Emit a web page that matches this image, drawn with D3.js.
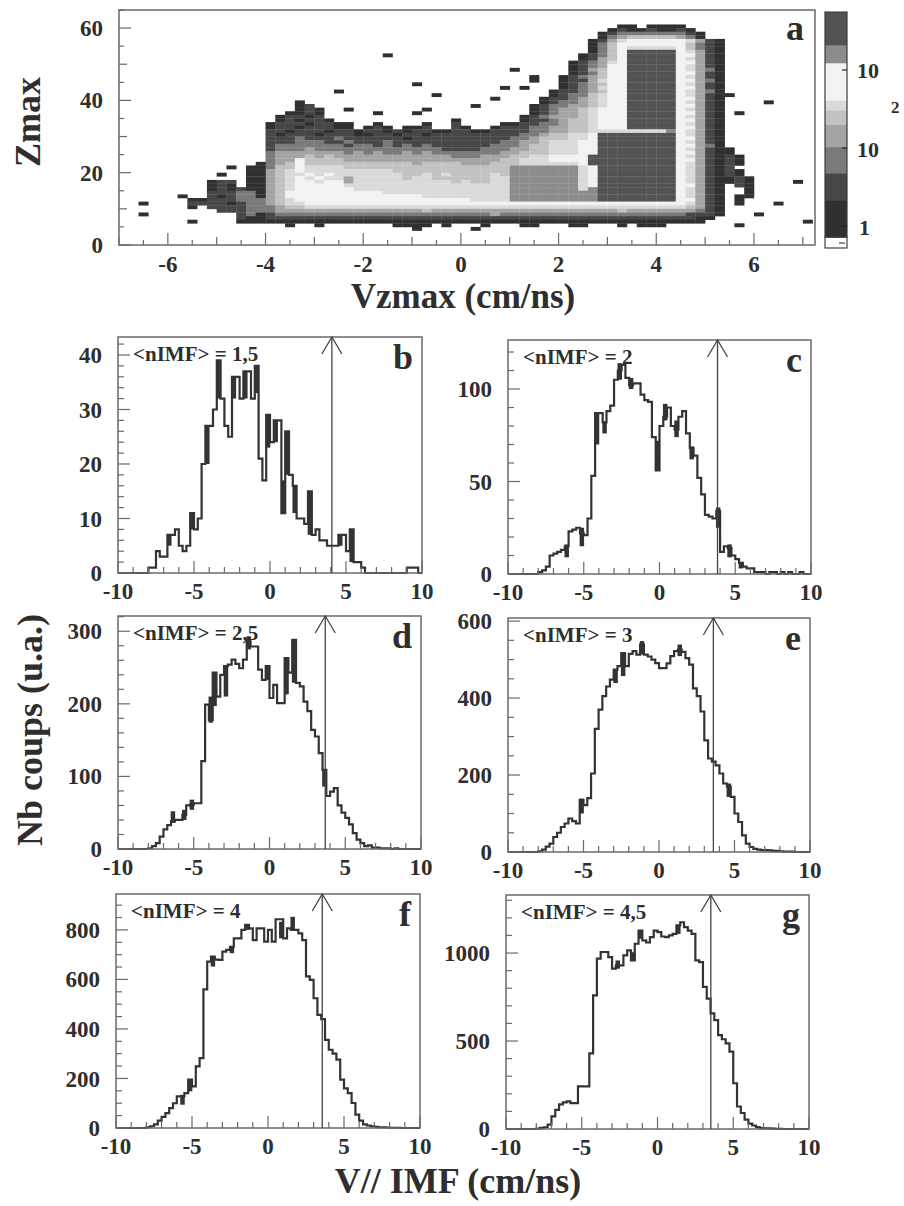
<!DOCTYPE html>
<html><head><meta charset="utf-8">
<script src="https://cdn.jsdelivr.net/npm/d3@7"></script>
<style>
body{margin:0;background:#fff}
svg{display:block}
text{font-family:"Liberation Serif","Times New Roman",serif;font-weight:bold;fill:#2e2e2e}
</style>
</head><body>
<svg id="chart" width="904" height="1206"></svg>
<script>
// ---------------- DATA ----------------
// Panel a : 2D histogram Zmax vs Vzmax. Columns: V = -7 + 0.2*i, rows: Z (1 unit bins)
// level codes 1..9 (count classes of the colour bar), '.' = empty
const heatV0 = -7, heatDV = 0.2;
const heatRows = [
 [60,15,".......... .......... .......... ......11.1 111......."],
 [59,15,".......... .......... .......... .....12112 1121......"],
 [58,15,".......... .......... .......... ....123333 33321....."],
 [57,15,".......... .......... .......... ....134555 55431....."],
 [56,15,".......... .......... .......... ...1246777 7776421..."],
 [55,15,".......... .......... .......... ...1357777 7775321..."],
 [54,15,".......... .......... .......... ...1357666 6675321..."],
 [53,15,".......... .......... .......... ...1357999 9976421..."],
 [52,15,".......... .......... .......... ..12357999 9977421..."],
 [51,15,".......... .......... .......... ..12457999 9976421..."],
 [50,15,".......... .......... .......... .123467999 9977421..."],
 [49,15,".......... .......... .......... .123477999 9976421..."],
 [48,15,".......... .......... .......... .124577999 9976431..."],
 [47,15,".......... .......... .......... .123577999 9977421..."],
 [46,15,".......... .......... .......... 1234577999 9976421..."],
 [45,15,".......... .......... .......... 1224677999 9977431..."],
 [44,15,".......... .......... .......... 1234577999 9976421..."],
 [43,15,".......... .......... .......... 1234677999 9977421..."],
 [42,15,".......... .......... .........1 2234577999 9976431..."],
 [41,15,".......... .......... .........1 2335677999 9976421..."],
 [40,15,".......... .......... ........12 2345677999 9977421..."],
 [39,15,"...1...... .......... ........12 3345677999 9976421..."],
 [38,15,"...12..... .......... .......123 3445677999 9977421..."],
 [37,15,"...121.... .......... .......123 4456777999 9976421..."],
 [36,15,"..1121.... .......... .......123 4456777999 9977421..."],
 [35,15,".12212.... .......... ......1234 4456777999 9976421..."],
 [34,15,".121221... .........1 ......1223 4556777999 9977421..."],
 [33,15,"122212211. .1....1..2 ....112233 4556777999 9976421..."],
 [32,15,"122122211. 121.112..2 1..1222334 4556777999 9977421..."],
 [31,15,"2212221221 2212122112 2112222334 4556666666 6876421..."],
 [30,15,"2122212221 1221221222 2222223345 5667999999 9976421..."],
 [29,15,"2223222322 2222122222 2222233455 5667999999 9977421..."],
 [28,15,"2223332232 2232222222 2222334456 6677999999 9976421..."],
 [27,15,"2333333323 3232323222 2223334556 6677999999 9977431..."],
 [26,15,"2333433333 3333333322 2233344556 6677999999 99764211.."],
 [25,15,"3444444434 3433434333 3333445556 6677999999 99774211.."],
 [24,15,"3444545444 4444444443 3344455667 7779999999 997642121."],
 [23,15,"3447555544 4444444444 4444556667 7779999999 997742121."],
 [22,15,"3457555555 5555545555 4445556666 6679999999 997642121."],
 [21,15,"3557666655 5555555555 5555588888 8867999999 99764212.."],
 [20,15,"4567666666 6665555555 5555588888 8867999999 997642121."],
 [19,15,"4566767666 6666556565 5556588888 8867999999 997642121."],
 [18,15,"4567676646 6666566555 5556688888 8867999999 9976421121"],
 [17,15,"4567767746 6666666665 6556688888 8867999999 9976421121"],
 [16,15,"4567777766 6666666666 6666688888 8867999999 9977421.21"],
 [15,15,"4567777776 6666666666 6666688888 8868999999 9976421..1"],
 [14,15,"4577777777 7766666666 6666688888 8888999999 9976421..1"],
 [13,15,"4577777777 7777776666 6666688888 8888999999 9976421.11"],
 [12,15,"4567777777 7777777777 7666688888 8888999999 9977421.1."],
 [11,15,"4566777777 7777777777 7777777777 7777777777 7776421.1."],
 [10,15,"3455666666 6666666666 6666666666 6666666666 6665421..."],
 [9,15,"3444444444 4444445444 4444444444 4444445444 4444321..."],
 [8,15,"2333333333 3333333333 3334333333 3333333333 3332221..."],
 [7,15,"2222222222 2222222222 2222222222 2222222222 222211...."],
 [6,15,"1111111111 1111111111 1111111111 1111111111 11111....."],
 [5,15,"..1..1.... ...1111.1. ..1...11.. .11...1.11 1........."],
 [22,5,".........1"],
 [21,5,"......1.11"],
 [20,5,"........11"],
 [19,5,".....1..11"],
 [18,5,"........11"],
 [17,5,"....122.11"],
 [16,5,"....121.11"],
 [15,5,"....121211"],
 [14,5,"....222331"],
 [13,5,".1..212331"],
 [12,5,"..11222333"],
 [11,5,"..22221233"],
 [10,5,"..1.222233"],
 [9,5,".....22233"],
 [8,5,".......231"],
 [7,5,".......211"],
 [6,5,"..1....111"]
];
// isolated single cells [column index, Z, level]
const heatDots = [[2,11,1],[2,8,1],[27,52,1],[22,42,1],[23,37,1],[26,36,1],[30,44,1],[30,36,1],[31,37,1],
 [32,41,1],[36,38,1],[38,40,1],[39,43,1],[41,43,1],[40,48,1],[42,46,1],[42,45,1],[62,41,1],[63,36,1],
 [66,39,1],[69,17,1],[67,11,1],[70,6,1],[63,5,1],[30,4,1],[36,4,1],[65,8,1]];
// colour-bar classes (counts) and their grey levels
const levelBreaks = [0.72, 2.15, 4.77, 10.3, 20, 30.6, 41, 123, 209, 553];
const levelGrays = ['#303030','#474747','#7a7a7a','#a4a4a4','#c2c2c2','#dadada','#f2f2f2','#8c8c8c','#535353'];
const aXTicks = [-6,-4,-2,0,2,4,6];
const aYTicks = [0,20,40,60];

// Panels b-g : V// IMF histograms, bins of 0.25 cm/ns starting at -8
const histV0 = -8, histDV = 0.25;
const histB = [1,1,4,3,3,7,7,8,5,4, 5,11,8,10,20,27,27,30,39,32, 27,25,36,36,32,37,37,32,38,21,
 17,29,24,28,28,11,26,18,16,10, 10,9,15,7,8,6,6,5,5,5, 7,7,4,8,2,2,1,0,0,0, 0,0,0,0,0,0,0,0,1,1, 1];
const histC = [1,2,4,10,11,12,13,15,23,24, 25,22,21,30,53,87,87,82,88,91, 105,110,113,106,102,103,103,97,94,93,
 74,56,80,85,90,80,78,85,88,76, 68,64,52,43,32,31,30,34,12,15, 14,10,8,6,4,3,3,1,1,1, 0,1,1,0,1,0,1,0,0,1];
const histD = [1,4,8,17,27,33,38,40,40,47, 60,61,63,63,121,199,178,243,210,240, 252,254,261,255,249,261,286,279,279,247,
 233,252,208,226,201,201,263,243,288,229, 224,203,190,164,155,132,109,73,79,84, 60,50,43,34,22,13,8,4,5,2, 2,1,1,1,0,1,0,0,0,0];
const histE = [2,6,14,22,39,50,65,74,87,80, 74,135,122,140,204,320,370,405,430,448, 474,483,517,483,515,522,513,539,513,508,
 500,491,478,478,490,509,522,526,520,504, 487,425,405,365,290,243,235,225,204,178, 170,143,100,78,43,22,13,8,6,5, 5,4,3,3,2,1,1,1,0,0];
const histF = [3,7,15,30,45,60,80,100,128,128, 141,195,168,249,282,560,672,692,680,679, 712,719,732,766,766,800,820,806,759,806,
 806,753,800,753,843,843,766,806,800,800, 786,759,612,598,524,457,440,356,316,300, 276,195,160,141,101,54,30,15,10,7, 5,3,3,2,1,1,1,0,0,0];
const histG = [2,6,10,25,72,109,140,151,157,147, 147,242,242,242,430,760,968,1006,1006,977, 911,930,930,987,1015,958,1053,1128,1072,1060,
 1091,1128,1119,1094,1091,1100,1109,1157,1175,1147, 1128,1109,958,949,808,741,657,619,534,510, 487,440,260,128,91,53,30,20,11,5, 4,3,2,1,1,0,0,0,0,0];
// visible error bars [bin, low, high]
const errB = [[5,5,7],[11,8,11],[15,20,27],[18,32,39],[22,32,36],[25,32,37],[28,33,38],[31,23,29],[33,24,28],[35,11,17],[36,18,26],[38,11,16],[42,7,15],[50,5,7],[53,2,8]];
const errC = [[7,9,16],[11,15,25],[15,70,87],[17,76,82],[21,105,114],[24,100,106],[31,56,72],[33,83,92],[36,74,83],[40,62,69],[47,25,36],[50,9,16],[53,3,6]];
const errD = [[6,36,52],[9,40,54],[11,54,68],[16,174,210],[17,197,243],[20,210,252],[26,275,293],[31,233,252],[36,213,263],[38,229,288],[46,86,109]];
const errE = [[11,100,139],[20,439,474],[22,457,517],[27,513,548],[37,509,539],[50,143,178]];
const errF = [[9,94,134],[11,148,195],[17,652,692],[22,706,732],[26,800,820],[35,766,833],[38,800,853]];
const errG = [[21,911,958],[25,958,1005],[27,1081,1128],[37,1109,1157]];
const nimfLabels = ['<nIMF> = 1,5','<nIMF> = 2','<nIMF> = 2,5','<nIMF> = 3','<nIMF> = 4','<nIMF> = 4,5'];
const panelLetters = ['b','c','d','e','f','g'];
const arrowV = [4.07, 3.83, 3.68, 3.6, 3.57, 3.52];
const histXTicks = [-10,-5,0,5,10];
const histYTicks = [[0,10,20,30,40],[0,50,100],[0,100,200,300],[0,200,400,600],[0,200,400,600,800],[0,500,1000]];

// ---------------- LAYOUT ----------------
const svg = d3.select('#chart');
const INK = '#333';
const FRAME = '#6a6a6a';

// ===== Panel a =====
const A = {x0:119, x1:815, y0:10, y1:245};
const xA = d3.scaleLinear().domain([-7, 7.25]).range([A.x0, A.x1]);
const yA = d3.scaleLinear().domain([0, 65]).range([A.y1, A.y0]);
const lvlColor = d3.scaleOrdinal().domain(d3.range(1,10)).range(levelGrays);

const cells = [];
heatRows.forEach(([z, s, str]) => {
  const t = str.replace(/ /g,'');
  for (let j = 0; j < t.length; j++) if (t[j] !== '.') cells.push({i: s + j, z, lvl: +t[j]});
});
heatDots.forEach(([i, z, l]) => cells.push({i, z, lvl: l}));

const gA = svg.append('g');
gA.selectAll('rect.cell').data(cells).join('rect').attr('class','cell')
  .attr('x', d => xA(heatV0 + d.i * heatDV))
  .attr('width', d => xA(heatV0 + (d.i + 1) * heatDV) - xA(heatV0 + d.i * heatDV) + 0.3)
  .attr('y', d => yA(d.z + 1))
  .attr('height', d => yA(d.z) - yA(d.z + 1) + 0.3)
  .attr('fill', d => lvlColor(d.lvl));

gA.append('rect').attr('x',A.x0).attr('y',A.y0).attr('width',A.x1-A.x0).attr('height',A.y1-A.y0)
  .attr('fill','none').attr('stroke',FRAME).attr('stroke-width',1.5);
// ticks
d3.range(0, 65.1, 5).forEach(v => {
  const L = (v % 20 === 0) ? 12 : (v % 10 === 0 ? 8 : 5);
  gA.append('line').attr('x1',A.x0).attr('x2',A.x0+L).attr('y1',yA(v)).attr('y2',yA(v)).attr('stroke',FRAME).attr('stroke-width',1.2);
});
d3.range(-7, 7.01, 0.5).forEach(v => {
  const L = (Math.abs(v % 2) < 1e-6) ? 12 : (Math.abs(v % 1) < 1e-6 ? 8 : 5);
  gA.append('line').attr('x1',xA(v)).attr('x2',xA(v)).attr('y1',A.y1).attr('y2',A.y1-L).attr('stroke',FRAME).attr('stroke-width',1.2);
});
aYTicks.forEach(v => gA.append('text').attr('x',A.x0-16).attr('y',yA(v)).attr('dy','0.35em')
  .attr('text-anchor','end').attr('font-size',23).text(v));
aXTicks.forEach(v => gA.append('text').attr('x',xA(v)).attr('y',A.y1+27)
  .attr('text-anchor','middle').attr('font-size',23).text(v));
gA.append('text').attr('x',A.x1-11).attr('y',A.y0+30).attr('text-anchor','end').attr('font-size',36).text('a');
gA.append('text').attr('transform','translate(40,122) rotate(-90)').attr('text-anchor','middle').attr('font-size',36).text('Zmax');
gA.append('text').attr('x',463).attr('y',308).attr('text-anchor','middle').attr('font-size',35).text('Vzmax (cm/ns)');

// colour bar
const CB = {x0:825, x1:847};
const yCB = d3.scaleLog().domain([1, 100]).range([226, 70]);
const cbData = levelGrays.map((g, k) => ({lo: levelBreaks[k], hi: levelBreaks[k+1], lvl: k+1}));
gA.selectAll('rect.cb').data(cbData).join('rect').attr('class','cb')
  .attr('x',CB.x0).attr('width',CB.x1-CB.x0)
  .attr('y', d => yCB(d.hi)).attr('height', d => yCB(d.lo) - yCB(d.hi) + 0.3)
  .attr('fill', d => lvlColor(d.lvl));
gA.append('rect').attr('x',CB.x0).attr('y',yCB(levelBreaks[0])).attr('width',CB.x1-CB.x0)
  .attr('height',248-yCB(levelBreaks[0])).attr('fill','#fff').attr('stroke','#444').attr('stroke-width',1.2);
gA.append('line').attr('x1',CB.x1-8).attr('x2',CB.x1-2).attr('y1',243).attr('y2',243).attr('stroke','#444').attr('stroke-width',1.2);
gA.append('rect').attr('x',CB.x0).attr('y',yCB(levelBreaks[9])).attr('width',CB.x1-CB.x0)
  .attr('height',yCB(levelBreaks[0])-yCB(levelBreaks[9])).attr('fill','none').attr('stroke','#3a3a3a').attr('stroke-width',1.2);
[1,10,100].forEach(v => gA.append('line').attr('x1',CB.x1-5).attr('x2',CB.x1).attr('y1',yCB(v)).attr('y2',yCB(v)).attr('stroke','#222').attr('stroke-width',1.2));
gA.append('text').attr('x',857).attr('y',78).attr('font-size',22).text('10');
gA.append('text').attr('x',891).attr('y',113).attr('font-size',17).text('2');
gA.append('text').attr('x',857).attr('y',157).attr('font-size',22).text('10');
gA.append('text').attr('x',859).attr('y',235).attr('font-size',22).text('1');

// ===== Panels b-g =====
const hists = [histB, histC, histD, histE, histF, histG];
const errs = [errB, errC, errD, errE, errF, errG];
const frames = [
  {x0:118, x1:422, y0:337, y1:573, ymax:43.3, minor:2},
  {x0:508, x1:811, y0:340, y1:574, ymax:126.5, minor:10},
  {x0:118, x1:421, y0:616, y1:849, ymax:321, minor:20},
  {x0:508, x1:810, y0:618, y1:852, ymax:608, minor:50},
  {x0:116, x1:420, y0:894, y1:1128, ymax:945, minor:50},
  {x0:506, x1:809, y0:895, y1:1129, ymax:1330, minor:100}
];

frames.forEach((F, p) => {
  const g = svg.append('g');
  const xs = d3.scaleLinear().domain([-10, 10]).range([F.x0, F.x1]);
  const ys = d3.scaleLinear().domain([0, F.ymax]).range([F.y1, F.y0]);
  const h = hists[p];
  const pts = [{v:-10, c:0}];
  h.forEach((c, k) => pts.push({v: histV0 + k * histDV, c}));
  pts.push({v: histV0 + h.length * histDV, c:0});
  pts.push({v: 10, c:0});
  const line = d3.line().x(d => xs(d.v)).y(d => ys(d.c)).curve(d3.curveStepAfter);
  g.append('path').attr('d', line(pts)).attr('fill','none').attr('stroke',INK).attr('stroke-width',2.2).attr('stroke-linejoin','miter');
  g.selectAll('line.err').data(errs[p]).join('line').attr('class','err')
    .attr('x1', d => xs(histV0 + (d[0] + 0.5) * histDV)).attr('x2', d => xs(histV0 + (d[0] + 0.5) * histDV))
    .attr('y1', d => ys(d[1])).attr('y2', d => ys(d[2]))
    .attr('stroke', INK).attr('stroke-width', 4.5);
  // frame
  g.append('rect').attr('x',F.x0).attr('y',F.y0).attr('width',F.x1-F.x0).attr('height',F.y1-F.y0)
    .attr('fill','none').attr('stroke',FRAME).attr('stroke-width',1.5);
  // y ticks
  const yT = histYTicks[p];
  const majorStep = yT[1] - yT[0];
  d3.range(0, F.ymax + 1e-6, F.minor).forEach(v => {
    const isMajor = Math.abs(v / majorStep - Math.round(v / majorStep)) < 1e-6;
    g.append('line').attr('x1',F.x0).attr('x2',F.x0 + (isMajor ? 12 : 6)).attr('y1',ys(v)).attr('y2',ys(v))
      .attr('stroke',FRAME).attr('stroke-width',1.2);
  });
  yT.forEach(v => g.append('text').attr('x',F.x0-16).attr('y',ys(v)).attr('dy','0.35em')
    .attr('text-anchor','end').attr('font-size',23).text(v));
  // x ticks
  d3.range(-10, 10.01, 1).forEach(v => {
    const isMajor = v % 5 === 0;
    g.append('line').attr('x1',xs(v)).attr('x2',xs(v)).attr('y1',F.y1).attr('y2',F.y1 - (isMajor ? 12 : 6))
      .attr('stroke',FRAME).attr('stroke-width',1.2);
  });
  histXTicks.forEach(v => g.append('text').attr('x',xs(v)).attr('y',F.y1+26)
    .attr('text-anchor','middle').attr('font-size',23).text(v));
  // arrow
  const ax = xs(arrowV[p]);
  g.append('line').attr('x1',ax).attr('x2',ax).attr('y1',F.y1).attr('y2',F.y0).attr('stroke','#444').attr('stroke-width',1.3);
  g.append('path').attr('d',`M${ax-10},${F.y0+17}L${ax},${F.y0}L${ax+10},${F.y0+17}`)
    .attr('fill','none').attr('stroke','#444').attr('stroke-width',1.3);
  // labels
  g.append('text').attr('x',F.x0+15).attr('y',F.y0+24).attr('font-size',21).text(nimfLabels[p]);
  g.append('text').attr('x',F.x1-9).attr('y',F.y0+32).attr('text-anchor','end').attr('font-size',36).text(panelLetters[p]);
});

svg.append('text').attr('transform','translate(42,730) rotate(-90)').attr('text-anchor','middle').attr('font-size',36).text('Nb coups (u.a.)');
svg.append('text').attr('x',458).attr('y',1193).attr('text-anchor','middle').attr('font-size',36).text('V// IMF (cm/ns)');
</script>
</body></html>
